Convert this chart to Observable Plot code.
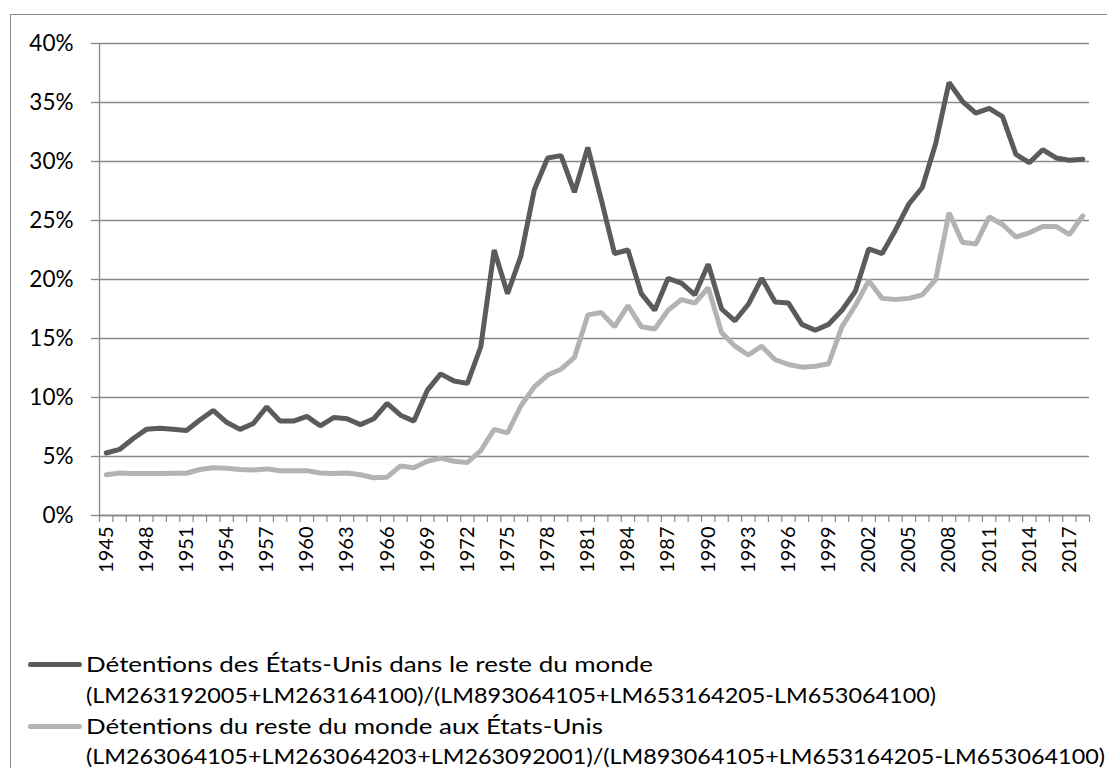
<!DOCTYPE html>
<html>
<head>
<meta charset="utf-8">
<script src="https://cdn.jsdelivr.net/npm/d3@7"></script>
<script src="https://cdn.jsdelivr.net/npm/@observablehq/plot@0.6"></script>
<style>
  html, body { margin:0; padding:0; background:#fff; overflow:hidden; }
  #wrap { position:relative; width:1107px; height:768px; overflow:hidden;
          font-family:Lato,"Open Sans","Liberation Sans",sans-serif; }
  #frame { position:absolute; left:10px; top:14px; width:1300px; height:1000px; border:1.5px solid #8a8a8a; box-sizing:border-box; }
  #chart { position:absolute; left:0; top:0; }
  .sw { position:absolute; left:28px; width:54px; height:5px; border-radius:3px; }
  .lt { position:absolute; left:86px; font-size:22px; line-height:28px; height:28px; white-space:nowrap; color:#000; transform-origin:0 50%; }
</style>
</head>
<body>
<div id="wrap">
  <div id="frame"></div>
  <div id="chart"></div>
  <div id="legend"></div>
</div>
<script>
const years = [1945,1946,1947,1948,1949,1950,1951,1952,1953,1954,1955,1956,1957,1958,1959,1960,1961,1962,1963,1964,1965,1966,1967,1968,1969,1970,1971,1972,1973,1974,1975,1976,1977,1978,1979,1980,1981,1982,1983,1984,1985,1986,1987,1988,1989,1990,1991,1992,1993,1994,1995,1996,1997,1998,1999,2000,2001,2002,2003,2004,2005,2006,2007,2008,2009,2010,2011,2012,2013,2014,2015,2016,2017,2018];

// Détentions des États-Unis dans le reste du monde (%)
const usAbroad = [5.3,5.6,6.5,7.3,7.4,7.3,7.2,8.1,8.9,7.9,7.3,7.8,9.2,8.0,8.0,8.4,7.6,8.3,8.2,7.7,8.2,9.5,8.5,8.0,10.6,12.0,11.4,11.2,14.3,22.5,18.8,22.0,27.6,30.3,30.5,27.4,31.2,26.8,22.2,22.5,18.8,17.4,20.1,19.7,18.7,21.3,17.5,16.5,17.9,20.1,18.1,18.0,16.2,15.7,16.2,17.4,19.0,22.6,22.2,24.2,26.4,27.8,31.5,36.7,35.1,34.1,34.5,33.8,30.6,29.9,31.0,30.3,30.1,30.2];

// Détentions du reste du monde aux États-Unis (%)
const foreignInUS = [3.45,3.6,3.55,3.55,3.55,3.58,3.58,3.9,4.04,4.0,3.9,3.86,3.95,3.8,3.8,3.8,3.6,3.55,3.6,3.45,3.2,3.25,4.2,4.04,4.6,4.86,4.6,4.5,5.5,7.3,7.0,9.3,10.9,11.9,12.4,13.4,17.0,17.2,16.0,17.8,16.0,15.8,17.4,18.3,18.0,19.3,15.5,14.35,13.6,14.35,13.2,12.8,12.57,12.65,12.86,16.0,17.8,19.9,18.4,18.3,18.4,18.7,20.0,25.65,23.15,23.0,25.3,24.66,23.6,23.96,24.5,24.5,23.8,25.4];

const yTicks = [0,0.05,0.10,0.15,0.20,0.25,0.30,0.35,0.40];
const xTickLabels = [1945,1948,1951,1954,1957,1960,1963,1966,1969,1972,1975,1978,1981,1984,1987,1990,1993,1996,1999,2002,2005,2008,2011,2014,2017];

const seriesNames = ["Détentions des États-Unis dans le reste du monde","Détentions du reste du monde aux États-Unis"];
const seriesFormulas = ["(LM263192005+LM263164100)/(LM893064105+LM653164205-LM653064100)","(LM263064105+LM263064203+LM263092001)/(LM893064105+LM653164205-LM653064100)"];
const seriesColors = ["#5b5b5b","#b3b3b3"];

const data = years.map((yr, i) => ({year: yr, a: usAbroad[i] / 100, b: foreignInUS[i] / 100}));
const boundaries = years.map(y => y - 0.5).concat([years[years.length - 1] + 0.5]);
const axisColor = "#888888";
const font = 'Lato,"Open Sans","Liberation Sans",sans-serif';

const chart = Plot.plot({
  width: 1107,
  height: 600,
  marginLeft: 99,
  marginRight: 18,
  marginTop: 43,
  marginBottom: 85,
  x: {domain: [boundaries[0], boundaries[boundaries.length - 1]]},
  y: {domain: [0, 0.4]},
  style: {fontFamily: font, background: "transparent", color: "#000", overflow: "visible"},
  marks: [
    Plot.gridY(yTicks, {stroke: axisColor, strokeOpacity: 1, strokeWidth: 1.3}),
    Plot.axisY(yTicks, {tickFormat: d => Math.round(d * 100) + "%", tickSize: 8, tickPadding: 18, fontSize: 22.5, stroke: axisColor, strokeWidth: 1.3, label: null}),
    Plot.ruleX([boundaries[0]], {stroke: axisColor, strokeWidth: 1.3}),
    Plot.ruleY([0], {stroke: axisColor, strokeWidth: 1.3}),
    Plot.axisX(boundaries, {tickSize: 7, tickFormat: () => "", stroke: axisColor, strokeWidth: 1.2, label: null}),
    Plot.axisX(xTickLabels, {tickSize: 0, tickRotate: -90, tickPadding: 11, fontSize: 20, tickFormat: d => String(d), label: null}),
    Plot.line(data, {x: "year", y: "b", stroke: seriesColors[1], strokeWidth: 5, strokeLinejoin: "miter"}),
    Plot.line(data, {x: "year", y: "a", stroke: seriesColors[0], strokeWidth: 5, strokeLinejoin: "miter"})
  ]
});
document.getElementById("chart").appendChild(chart);

// Legend (HTML below the plot area)
const legend = document.getElementById("legend");
const rows = [
  {sw: 0, text: seriesNames[0], top: 650, target: 567},
  {text: seriesFormulas[0], top: 681, target: 850},
  {sw: 1, text: seriesNames[1], top: 712, target: 517},
  {text: seriesFormulas[1], top: 742, target: 1019}
];
rows.forEach(r => {
  if (r.sw !== undefined) {
    const s = document.createElement("div");
    s.className = "sw";
    s.style.top = (r.top + 12) + "px";
    s.style.background = seriesColors[r.sw];
    legend.appendChild(s);
  }
  const t = document.createElement("div");
  t.className = "lt";
  t.style.top = r.top + "px";
  t.textContent = r.text;
  legend.appendChild(t);
  const w = t.getBoundingClientRect().width;
  if (w > 0) t.style.transform = `scaleX(${r.target / w})`;
});
</script>
</body>
</html>
